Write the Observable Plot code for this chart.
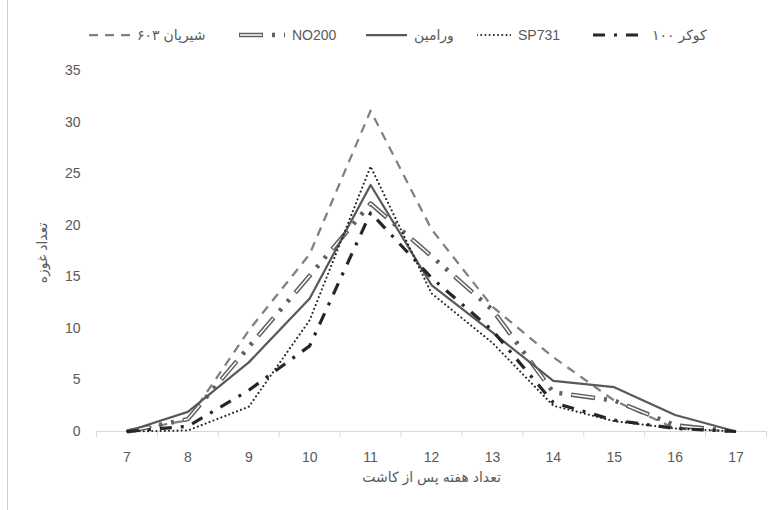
<!DOCTYPE html>
<html>
<head>
<meta charset="utf-8">
<script src="https://cdn.jsdelivr.net/npm/d3@7"></script>
<script src="https://cdn.jsdelivr.net/npm/@observablehq/plot@0.6"></script>
<style>
  html, body { margin: 0; padding: 0; background: #fff; }
  #wrap { position: relative; width: 774px; height: 510px; overflow: hidden;
          font-family: 'Liberation Sans', 'DejaVu Sans', sans-serif; color: #595959; }
  #border { position: absolute; left: 7px; top: 0; width: 1px; height: 510px; background: #cfcfcf; }
  #legend { position: absolute; left: 0; top: 0; width: 774px; height: 56px; }
  .item { position: absolute; top: 27px; height: 16px; display: flex; align-items: center; }
  .item span { font-size: 14px; color: #595959; white-space: nowrap; margin-left: 7px; line-height: 16px; }
  #chart { position: absolute; left: 0; top: 56px; }
</style>
</head>
<body>
<div id="wrap">
  <div id="border"></div>
  <div id="legend"></div>
  <div id="chart"></div>
</div>
<script>
// ---- data ----
const weeks = [7, 8, 9, 10, 11, 12, 13, 14, 15, 16, 17];
const seriesNames = ["شیرپان ۶۰۳", "NO200", "ورامین", "SP731", "کوکر ۱۰۰"];
const shirpan603 = [0, 1.1, 9.8, 17.2, 31.1, 19.6, 12.1, 7.2, 3.0, 0.3, 0];
const no200      = [0, 1.2, 8.2, 15.1, 22.1, 17.0, 11.8, 3.8, 3.0, 0.6, 0];
const varamin    = [0, 1.9, 6.7, 12.9, 23.9, 14.2, 9.6, 4.9, 4.3, 1.6, 0];
const sp731      = [0, 0.1, 2.4, 10.8, 25.7, 13.4, 8.6, 2.5, 1.0, 0.3, 0];
const kokar100   = [0, 0.5, 4.0, 8.3, 21.2, 14.9, 9.8, 2.8, 1.1, 0.3, 0];
const yTicks = [0, 5, 10, 15, 20, 25, 30, 35];
const xTitle = "تعداد هفته پس از کاشت";
const yTitle = "تعداد غوزه";

// ---- styles (not data) ----
const seriesValues = [shirpan603, no200, varamin, sp731, kokar100];
const styles = [
  {stroke: "#808080", width: 2.25, dash: "9 7", cap: "butt"},
  {stroke: "#5f5f5f", width: 4.5, dash: "24 9 3 9 3 9", cap: "butt", double: true},
  {stroke: "#595959", width: 2.25, dash: null, cap: "butt"},
  {stroke: "#262626", width: 2.1, dash: "0.01 4.2", cap: "round"},
  {stroke: "#262626", width: 3.2, dash: "12 9 3 9", cap: "butt"}
];
const legendPos = [
  {sx: 89, sw: 41},
  {sx: 239, sw: 46},
  {sx: 366, sw: 41},
  {sx: 477, sw: 34},
  {sx: 593, sw: 52}
];

const tables = seriesValues.map((vals, si) =>
  weeks.map((w, i) => ({week: w, value: vals[i], series: seriesNames[si]})));

const boundaries = weeks.map(w => w - 0.5).concat([weeks[weeks.length - 1] + 0.5]);

const lineMarks = [];
tables.forEach((t, i) => {
  const s = styles[i];
  lineMarks.push(Plot.line(t, {
    x: "week", y: "value", stroke: s.stroke, strokeWidth: s.width,
    strokeDasharray: s.dash || undefined, strokeLinecap: s.cap, strokeLinejoin: "round"
  }));
  if (s.double) {
    lineMarks.push(Plot.line(t, {
      x: "week", y: "value", stroke: "#ffffff", strokeWidth: 1.5,
      strokeDasharray: "22 35", strokeDashoffset: -1, strokeLinecap: "butt", strokeLinejoin: "round"
    }));
  }
});

const fontFam = "'Liberation Sans', 'DejaVu Sans', sans-serif";

const chart = Plot.plot({
  width: 774,
  height: 454,
  marginTop: 14,
  marginBottom: 79,
  marginLeft: 96,
  marginRight: 8,
  style: {fontFamily: fontFam, fontSize: "14px", color: "#595959", background: "transparent"},
  x: {type: "linear", domain: [boundaries[0], boundaries[boundaries.length - 1]], axis: null},
  y: {domain: [0, 35], axis: null},
  marks: [
    Plot.ruleY([0], {stroke: "#d9d9d9", strokeWidth: 1}),
    Plot.axisX({ticks: boundaries, tickSize: 6, tickFormat: () => "", stroke: "#d9d9d9", label: null}),
    Plot.axisX({ticks: weeks, tickSize: 0, tickPadding: 21, tickFormat: d => String(d), label: null, fill: "#595959"}),
    Plot.axisY({ticks: yTicks, tickSize: 0, tickPadding: 16, label: null, fill: "#595959"}),
    Plot.text([yTitle], {frameAnchor: "left", dx: -54, dy: 2, rotate: -90, textAnchor: "middle", fontSize: 14, fill: "#595959", fontFamily: fontFam}),
    Plot.text([xTitle], {frameAnchor: "bottom", dy: 50, textAnchor: "middle", fontSize: 14, fill: "#595959", fontFamily: fontFam}),
    ...lineMarks
  ]
});
document.getElementById("chart").appendChild(chart);

// ---- legend ----
const legend = document.getElementById("legend");
const NS = "http://www.w3.org/2000/svg";
seriesNames.forEach((name, i) => {
  const s = styles[i];
  const p = legendPos[i];
  const item = document.createElement("div");
  item.className = "item";
  item.style.left = p.sx + "px";
  const svg = document.createElementNS(NS, "svg");
  svg.setAttribute("width", p.sw);
  svg.setAttribute("height", 12);
  const mk = (stroke, w, dash, off, cap) => {
    const l = document.createElementNS(NS, "line");
    l.setAttribute("x1", 0); l.setAttribute("x2", p.sw);
    l.setAttribute("y1", 6); l.setAttribute("y2", 6);
    l.setAttribute("stroke", stroke);
    l.setAttribute("stroke-width", w);
    if (dash) l.setAttribute("stroke-dasharray", dash);
    if (off) l.setAttribute("stroke-dashoffset", off);
    l.setAttribute("stroke-linecap", cap);
    svg.appendChild(l);
  };
  mk(s.stroke, s.width, s.dash, null, s.cap);
  if (s.double) mk("#ffffff", 1.5, "22 35", -1, "butt");
  item.appendChild(svg);
  const span = document.createElement("span");
  span.textContent = name;
  item.appendChild(span);
  legend.appendChild(item);
});
</script>
</body>
</html>
